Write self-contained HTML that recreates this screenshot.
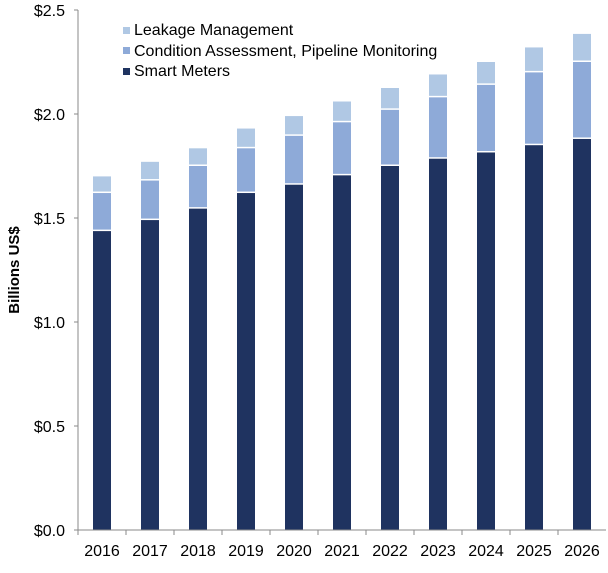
<!DOCTYPE html><html><head><style>body{margin:0;background:#fff}</style></head><body>
<svg width="608" height="568" xmlns="http://www.w3.org/2000/svg" font-family="Liberation Sans, Arial, sans-serif">
<rect width="608" height="568" fill="#fff"/>
<g id="bars"></g>
<line x1="78" y1="10" x2="78" y2="530" stroke="#8a8a8a" stroke-width="1"/>
<line x1="78" y1="530" x2="606" y2="530" stroke="#8a8a8a" stroke-width="1"/>
<g stroke="#8a8a8a">
<line x1="74" y1="10" x2="78" y2="10"/><line x1="74" y1="114" x2="78" y2="114"/><line x1="74" y1="218" x2="78" y2="218"/><line x1="74" y1="322" x2="78" y2="322"/><line x1="74" y1="426" x2="78" y2="426"/><line x1="74" y1="530" x2="78" y2="530"/>
</g>
<g font-size="16" text-anchor="end" fill="#000">
<text x="65" y="16">$2.5</text><text x="65" y="120">$2.0</text><text x="65" y="224">$1.5</text><text x="65" y="328">$1.0</text><text x="65" y="432">$0.5</text><text x="65" y="536">$0.0</text>
</g>
<text transform="translate(19,270) rotate(-90)" font-size="15" font-weight="bold" text-anchor="middle">Billions US$</text>
<g font-size="16">
<rect x="123" y="27" width="7" height="7" fill="#b0c8e4"/><text x="134" y="35">Leakage Management</text>
<rect x="123" y="47" width="7" height="7" fill="#8eaad8"/><text x="134" y="56">Condition Assessment, Pipeline Monitoring</text>
<rect x="123" y="68" width="7" height="7" fill="#1f3360"/><text x="134" y="76">Smart Meters</text>
</g>
<g id="xl" font-size="16" text-anchor="middle"></g>
<g id="xt" stroke="#8a8a8a"></g>
</svg>
<script>
var d=[[1.437,1.62,1.70],[1.49,1.68,1.77],[1.545,1.75,1.835],[1.62,1.835,1.93],[1.66,1.895,1.99],[1.705,1.96,2.06],[1.75,2.02,2.125],[1.785,2.08,2.19],[1.815,2.14,2.25],[1.85,2.2,2.32],[1.88,2.25,2.385]];
var ns="http://www.w3.org/2000/svg",b=document.getElementById('bars'),xl=document.getElementById('xl'),xt=document.getElementById('xt');
function y(v){return 530-v*208}
var cols=["#1f3360","#8eaad8","#b0c8e4"];
d.forEach(function(r,i){var cx=102+i*48,prev=0;
r.forEach(function(v,j){var e=document.createElementNS(ns,'rect');e.setAttribute('x',cx-9);e.setAttribute('width',18);
var top=y(v),bot=y(prev)-(j>0?1.5:0);e.setAttribute('y',top);e.setAttribute('height',bot-top);e.setAttribute('fill',cols[j]);b.appendChild(e);prev=v;});
var t=document.createElementNS(ns,'text');t.setAttribute('x',cx);t.setAttribute('y',556);t.textContent=2016+i;xl.appendChild(t);
var l=document.createElementNS(ns,'line');var lx=78+i*48;l.setAttribute('x1',lx);l.setAttribute('x2',lx);l.setAttribute('y1',530);l.setAttribute('y2',535);xt.appendChild(l);});
</script>
</body></html>
